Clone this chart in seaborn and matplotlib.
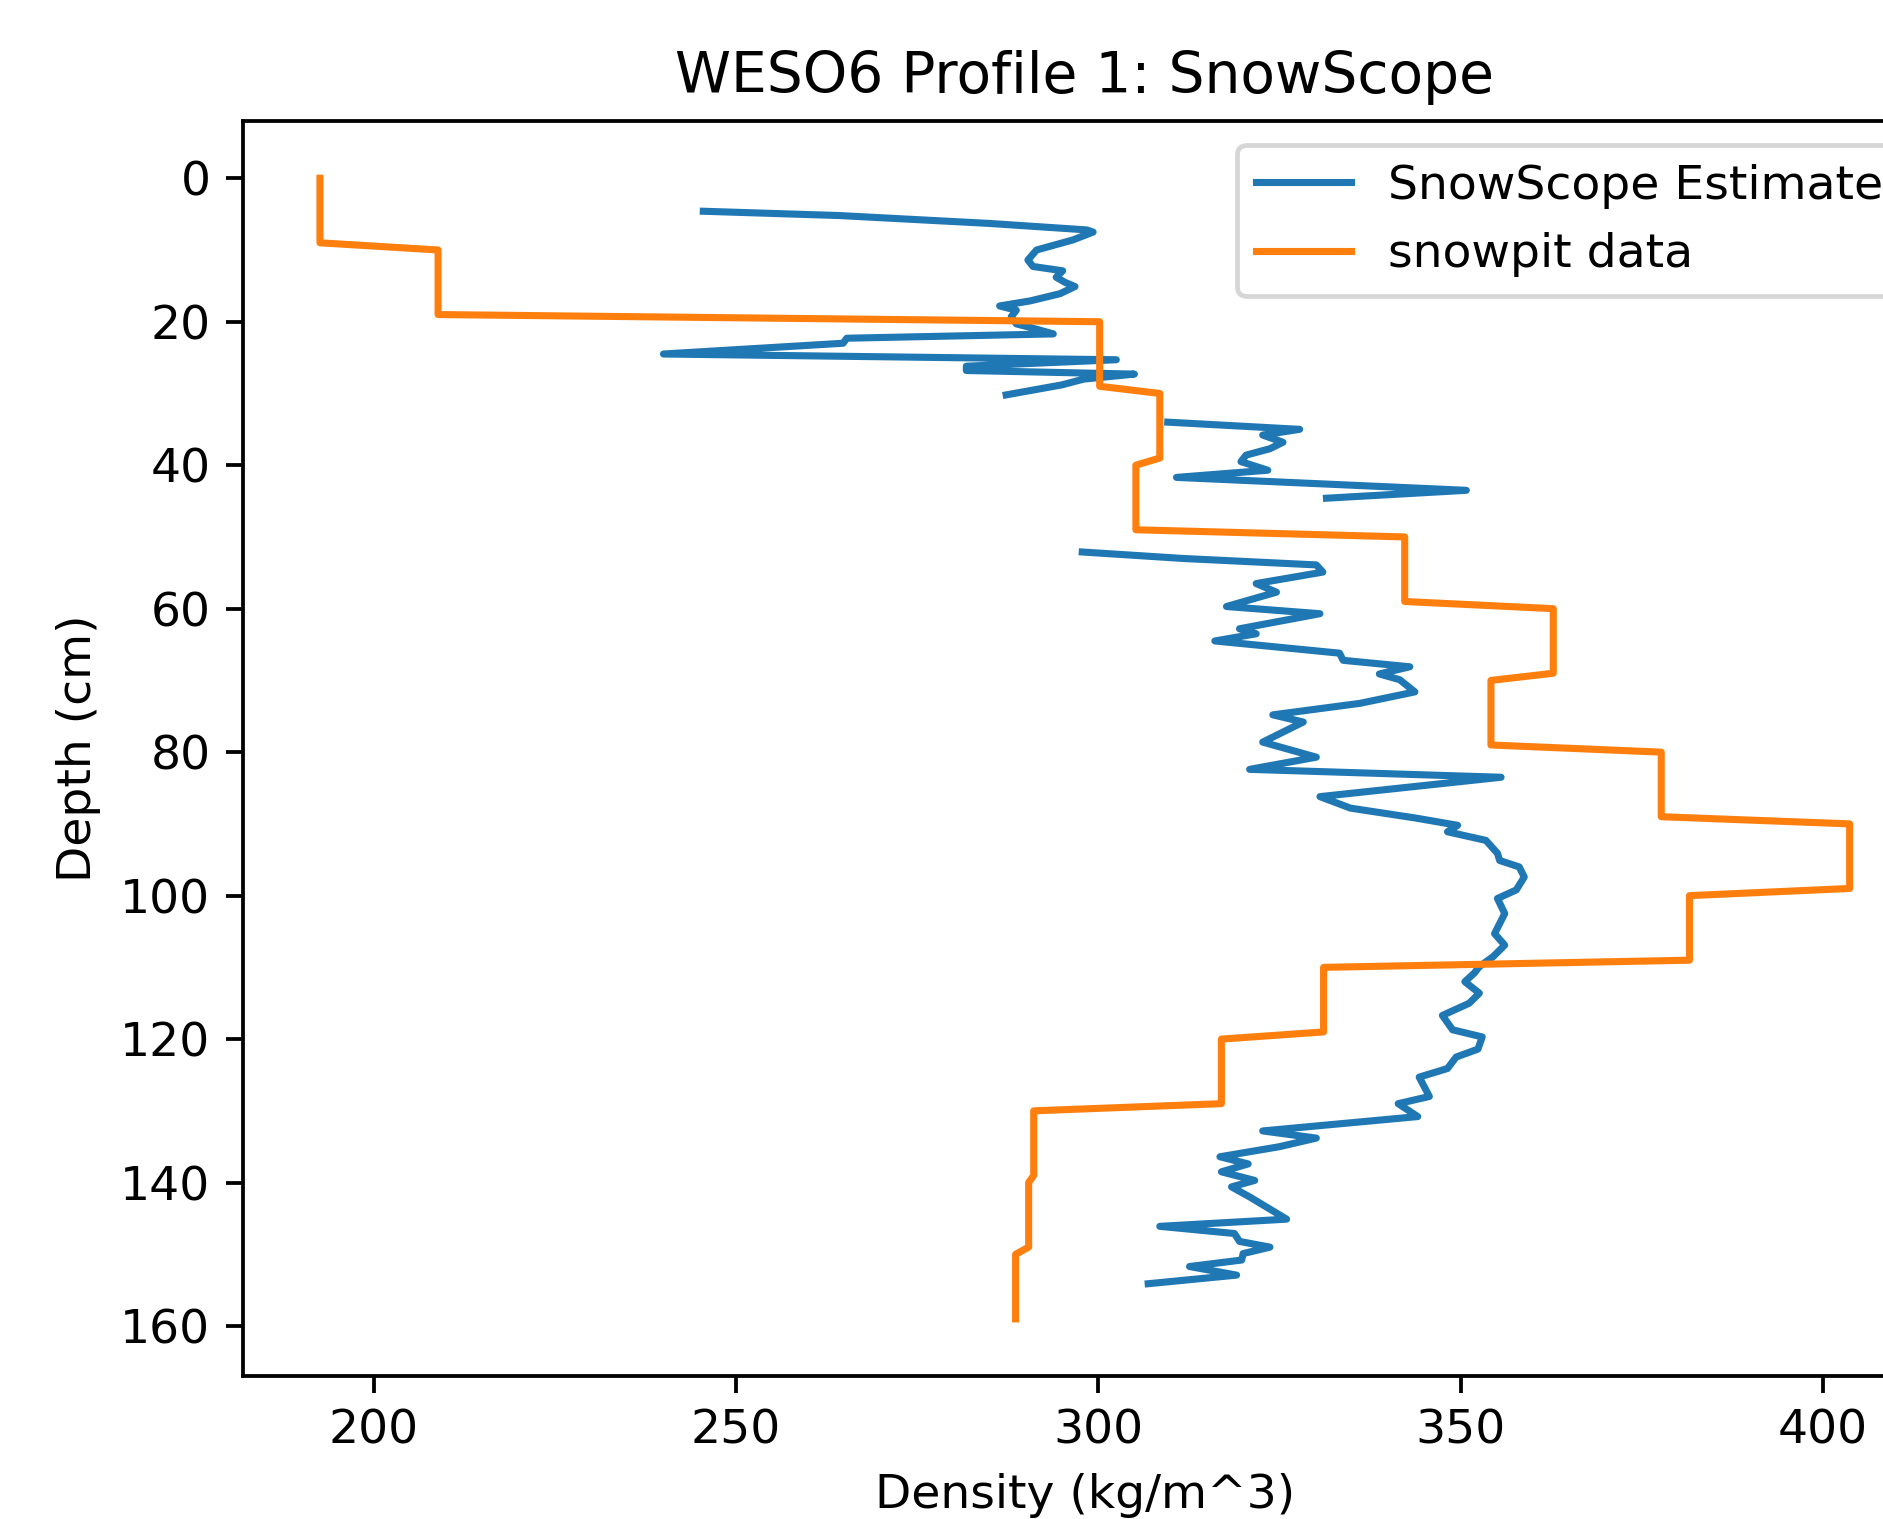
import numpy as np
import pandas as pd
import matplotlib
matplotlib.use("Agg")
import matplotlib.pyplot as plt
import seaborn as sns

# ---- data -------------------------------------------------------------
# SnowScope estimate, three continuous segments (gaps between them)
scope_seg1_density = [245.5, 264.3, 285.0, 298.4, 299.3, 296.5, 291.5, 290.3, 291.0, 295.1,
                      294.2, 295.4, 296.8, 294.7, 290.6, 286.4, 288.7, 288.0, 288.7, 291.0,
                      293.8, 265.3, 264.8, 240.0, 302.5, 281.8, 281.8, 305.0, 298.0, 295.0,
                      287.3]
scope_seg1_depth = [4.6, 5.2, 6.3, 7.2, 7.5, 8.6, 10.0, 11.4, 12.3, 12.9,
                    13.8, 14.5, 15.1, 16.1, 17.1, 17.8, 18.4, 19.3, 20.3, 20.9,
                    21.7, 22.3, 23.0, 24.5, 25.3, 26.2, 26.8, 27.3, 28.0, 28.8,
                    30.2]

scope_seg2_density = [309.6, 327.8, 322.7, 325.5, 323.7, 320.4, 319.7, 323.4, 310.8, 350.8,
                      331.5]
scope_seg2_depth = [34.0, 35.0, 35.8, 36.8, 37.7, 38.6, 39.5, 40.7, 41.7, 43.5,
                    44.6]

scope_seg3_density = [297.8, 311.7, 330.1, 331.0, 321.8, 324.6, 317.7, 330.6, 319.5, 321.8,
                      316.1, 333.3, 333.8, 343.0, 338.8, 341.6, 343.7, 336.1, 324.1, 328.3,
                      322.7, 330.1, 320.9, 355.6, 330.6, 334.8, 343.9, 349.6, 348.2, 353.5,
                      355.1, 355.4, 358.1, 358.8, 357.7, 355.1, 356.1, 354.7, 356.1, 354.5,
                      352.6, 351.9, 350.6, 352.6, 351.2, 347.5, 348.9, 353.0, 352.4, 349.4,
                      348.2, 344.3, 345.7, 341.4, 344.1, 322.7, 330.1, 325.0, 316.8, 320.7,
                      317.0, 321.6, 318.4, 320.9, 326.0, 308.5, 318.8, 319.5, 323.7, 320.0,
                      319.8, 312.6, 319.1, 306.9]
scope_seg3_depth = [52.1, 53.0, 53.9, 54.9, 56.5, 57.7, 59.7, 60.7, 62.8, 63.5,
                    64.5, 66.2, 67.2, 68.1, 69.1, 69.9, 71.6, 73.2, 74.8, 75.8,
                    78.6, 80.7, 82.4, 83.5, 86.2, 87.8, 89.2, 90.2, 91.1, 92.3,
                    94.1, 95.1, 96.0, 97.4, 99.2, 100.4, 102.5, 105.3, 106.9, 108.5,
                    109.9, 110.8, 112.0, 113.6, 115.0, 116.7, 118.7, 119.7, 121.4, 122.5,
                    124.1, 125.3, 128.0, 129.0, 130.8, 132.8, 133.8, 135.0, 136.4, 137.4,
                    138.5, 139.7, 140.6, 142.0, 145.1, 146.1, 147.1, 148.2, 149.0, 149.9,
                    150.8, 151.7, 152.9, 154.1]

# Snowpit layers (10 cm each): density per layer
pit_layer_top = [0, 10, 20, 30, 40, 50, 60, 70, 80, 90, 100, 110, 120, 130, 140, 150]
pit_layer_bottom = [9, 19, 29, 39, 49, 59, 69, 79, 89, 99, 109, 119, 129, 139, 149, 159]
pit_density = [192.6, 208.9, 300.2, 308.5, 305.2, 342.3, 362.8, 354.2,
               377.7, 403.7, 381.6, 331.1, 317.0, 291.1, 290.4, 288.6]

# ---- tables -----------------------------------------------------------
segments = [
    (scope_seg1_density, scope_seg1_depth),
    (scope_seg2_density, scope_seg2_depth),
    (scope_seg3_density, scope_seg3_depth),
]

pit_depth = []
pit_dens = []
for top, bot, d in zip(pit_layer_top, pit_layer_bottom, pit_density):
    pit_depth += [top, bot]
    pit_dens += [d, d]
pit_df = pd.DataFrame({"density": pit_dens, "depth": pit_depth})

# ---- figure -----------------------------------------------------------
DPI = 340
fig = plt.figure(figsize=(1883 / DPI, 1519 / DPI), dpi=DPI)
ax = fig.add_axes([0.1293, 0.0942, 0.8936, 0.826])

for i, (dens, dep) in enumerate(segments):
    seg_df = pd.DataFrame({"density": dens, "depth": dep})
    sns.lineplot(data=seg_df, x="density", y="depth", sort=False, estimator=None,
                 color="#1f77b4", linewidth=1.5, ax=ax,
                 label="SnowScope Estimate" if i == 0 else "_nolegend_")

sns.lineplot(data=pit_df, x="density", y="depth", sort=False, estimator=None,
             color="#ff7f0e", linewidth=1.5, ax=ax, label="snowpit data")

ax.invert_yaxis()
ax.set_title("WESO6 Profile 1: SnowScope", fontsize=12)
ax.set_xlabel("Density (kg/m^3)", fontsize=10)
ax.set_ylabel("Depth (cm)", fontsize=10)
ax.tick_params(labelsize=10)
ax.legend(loc="upper right", fontsize=10)

fig.savefig("out.png", dpi=DPI)
